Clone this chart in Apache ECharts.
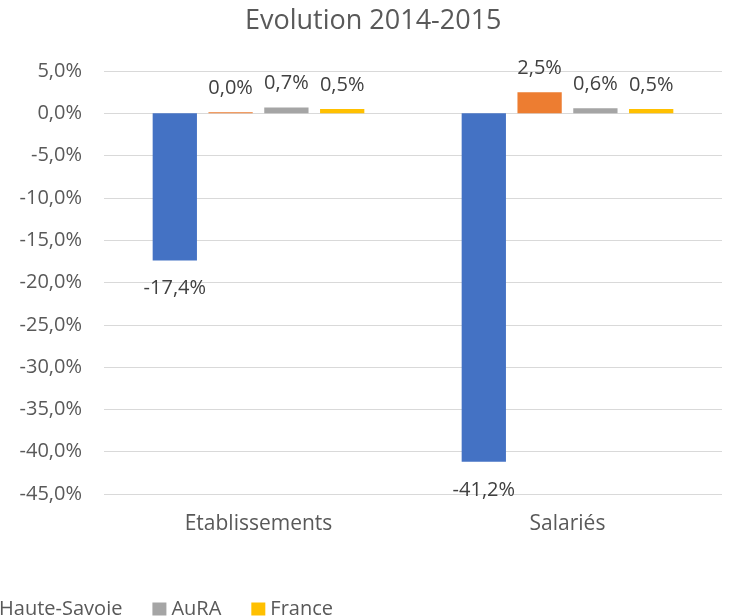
<!DOCTYPE html>
<html>
<head>
<meta charset="utf-8">
<script src="https://cdn.jsdelivr.net/npm/echarts@6/dist/echarts.min.js"></script>
<style>
html, body { margin: 0; padding: 0; background: #fff; }
#chart { width: 729px; height: 616px; }
</style>
</head>
<body>
<div id="chart"></div>
<script>
var categories = ['Etablissements', 'Salariés'];
var seriesNames = ['Annemasse', 'Haute-Savoie', 'AuRA', 'France'];
var seriesColors = ['#4472c4', '#ed7d31', '#a5a5a5', '#ffc000'];
var valuesBlue = [-17.4, -41.2];
var valuesOrange = [0.0, 2.5];
var valuesGray = [0.7, 0.6];
var valuesYellow = [0.5, 0.5];
var allValues = [valuesBlue, valuesOrange, valuesGray, valuesYellow];

var fontFamily = '"Open Sans", "Noto Sans", sans-serif';

function fmt(v) {
	return v.toFixed(1).replace('.', ',') + '%';
}

var chart = echarts.init(document.getElementById('chart'));

var series = allValues.map(function(vals, i) {
	return {
		name: seriesNames[i],
		type: 'bar',
		barGap: '26%',
		barCategoryGap: '31.5%',
		barMinHeight: 1,
		itemStyle: { color: seriesColors[i] },
		data: vals.map(function(v) {
			return {
				value: v,
				label: {
					show: true,
					position: v < 0 ? 'bottom' : 'top',
					distance: v < 0 ? 18 : 14
				}
			};
		}),
		label: {
			show: true,
			formatter: function(p) { return fmt(p.value); },
			color: '#404040',
			fontSize: 20,
			fontFamily: fontFamily
		}
	};
});

var option = {
	animation: false,
	title: {
		text: 'Evolution 2014-2015',
		left: 240,
		top: 3,
		textStyle: {
			color: '#595959',
			fontSize: 27,
			fontWeight: 'normal',
			fontFamily: fontFamily
		}
	},
	legend: {
		data: seriesNames,
		right: 391,
		width: 1000,
		top: 594,
		icon: 'rect',
		itemWidth: 14,
		itemHeight: 13,
		itemGap: 30,
		textStyle: {
			color: '#595959',
			fontSize: 20,
			fontFamily: fontFamily
		}
	},
	grid: {
		left: 104,
		right: 7,
		top: 71,
		bottom: 122
	},
	xAxis: {
		type: 'category',
		data: categories,
		axisLine: { show: false, onZero: false },
		axisTick: { show: false },
		axisLabel: {
			color: '#595959',
			fontSize: 21,
			margin: 20,
			fontFamily: fontFamily
		}
	},
	yAxis: {
		type: 'value',
		min: -45,
		max: 5,
		interval: 5,
		axisLine: { show: false },
		axisTick: { show: false },
		splitLine: { lineStyle: { color: '#d9d9d9', width: 1 } },
		axisLabel: {
			color: '#595959',
			fontSize: 20,
			margin: 22,
			fontFamily: fontFamily,
			formatter: function(v) { return fmt(v); }
		}
	},
	series: series
};

chart.setOption(option);
</script>
</body>
</html>
